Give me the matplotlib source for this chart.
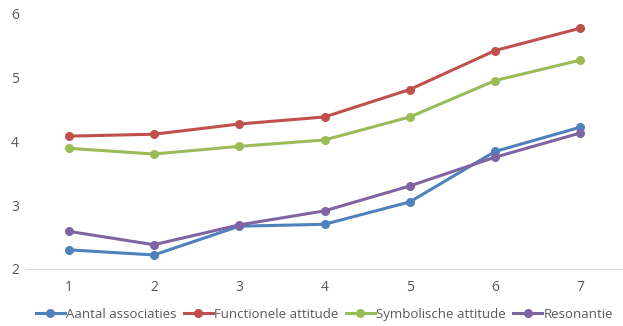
import matplotlib.pyplot as plt
import matplotlib

matplotlib.rcParams['font.family'] = ['Open Sans', 'DejaVu Sans']
matplotlib.rcParams['font.size'] = 9.5

# meetmomenten en gemiddelde scores per reeks
momenten = [1, 2, 3, 4, 5, 6, 7]
aantal_associaties = [2.30, 2.22, 2.67, 2.70, 3.05, 3.84, 4.22]
functionele_attitude = [4.08, 4.11, 4.27, 4.38, 4.81, 5.42, 5.77]
symbolische_attitude = [3.89, 3.80, 3.92, 4.02, 4.38, 4.95, 5.27]
resonantie = [2.59, 2.38, 2.69, 2.91, 3.30, 3.75, 4.13]

reeksen = [
    ('Aantal associaties', aantal_associaties, '#4f81bd'),
    ('Functionele attitude', functionele_attitude, '#c0504d'),
    ('Symbolische attitude', symbolische_attitude, '#9bbb59'),
    ('Resonantie', resonantie, '#8064a2'),
]

fig = plt.figure(figsize=(6.23, 3.26), dpi=100)
ax = fig.add_axes([26 / 623, 57 / 326, 597 / 623, 255.5 / 326])

for naam, waarden, kleur in reeksen:
    ax.plot(momenten, waarden, color=kleur, linewidth=2.2, marker='o',
            markersize=5.5, label=naam)

ax.set_xlim(0.5, 7.5)
ax.set_ylim(2, 6)
ax.set_yticks([2, 3, 4, 5, 6])
ax.set_xticks(momenten)

for kant in ['top', 'right', 'left']:
    ax.spines[kant].set_visible(False)
ax.spines['bottom'].set_color('#d9d9d9')
ax.tick_params(length=0, colors='#595959', labelsize=10)
ax.tick_params(axis='x', pad=8)
ax.tick_params(axis='y', pad=5)

ax.legend(loc='upper center', bbox_to_anchor=(0.5, -0.105), ncol=4,
          frameon=False, handlelength=2.2, handletextpad=0.1,
          columnspacing=0.55, labelcolor='#595959', fontsize=9.5)

fig.savefig('out.png', dpi=100)
